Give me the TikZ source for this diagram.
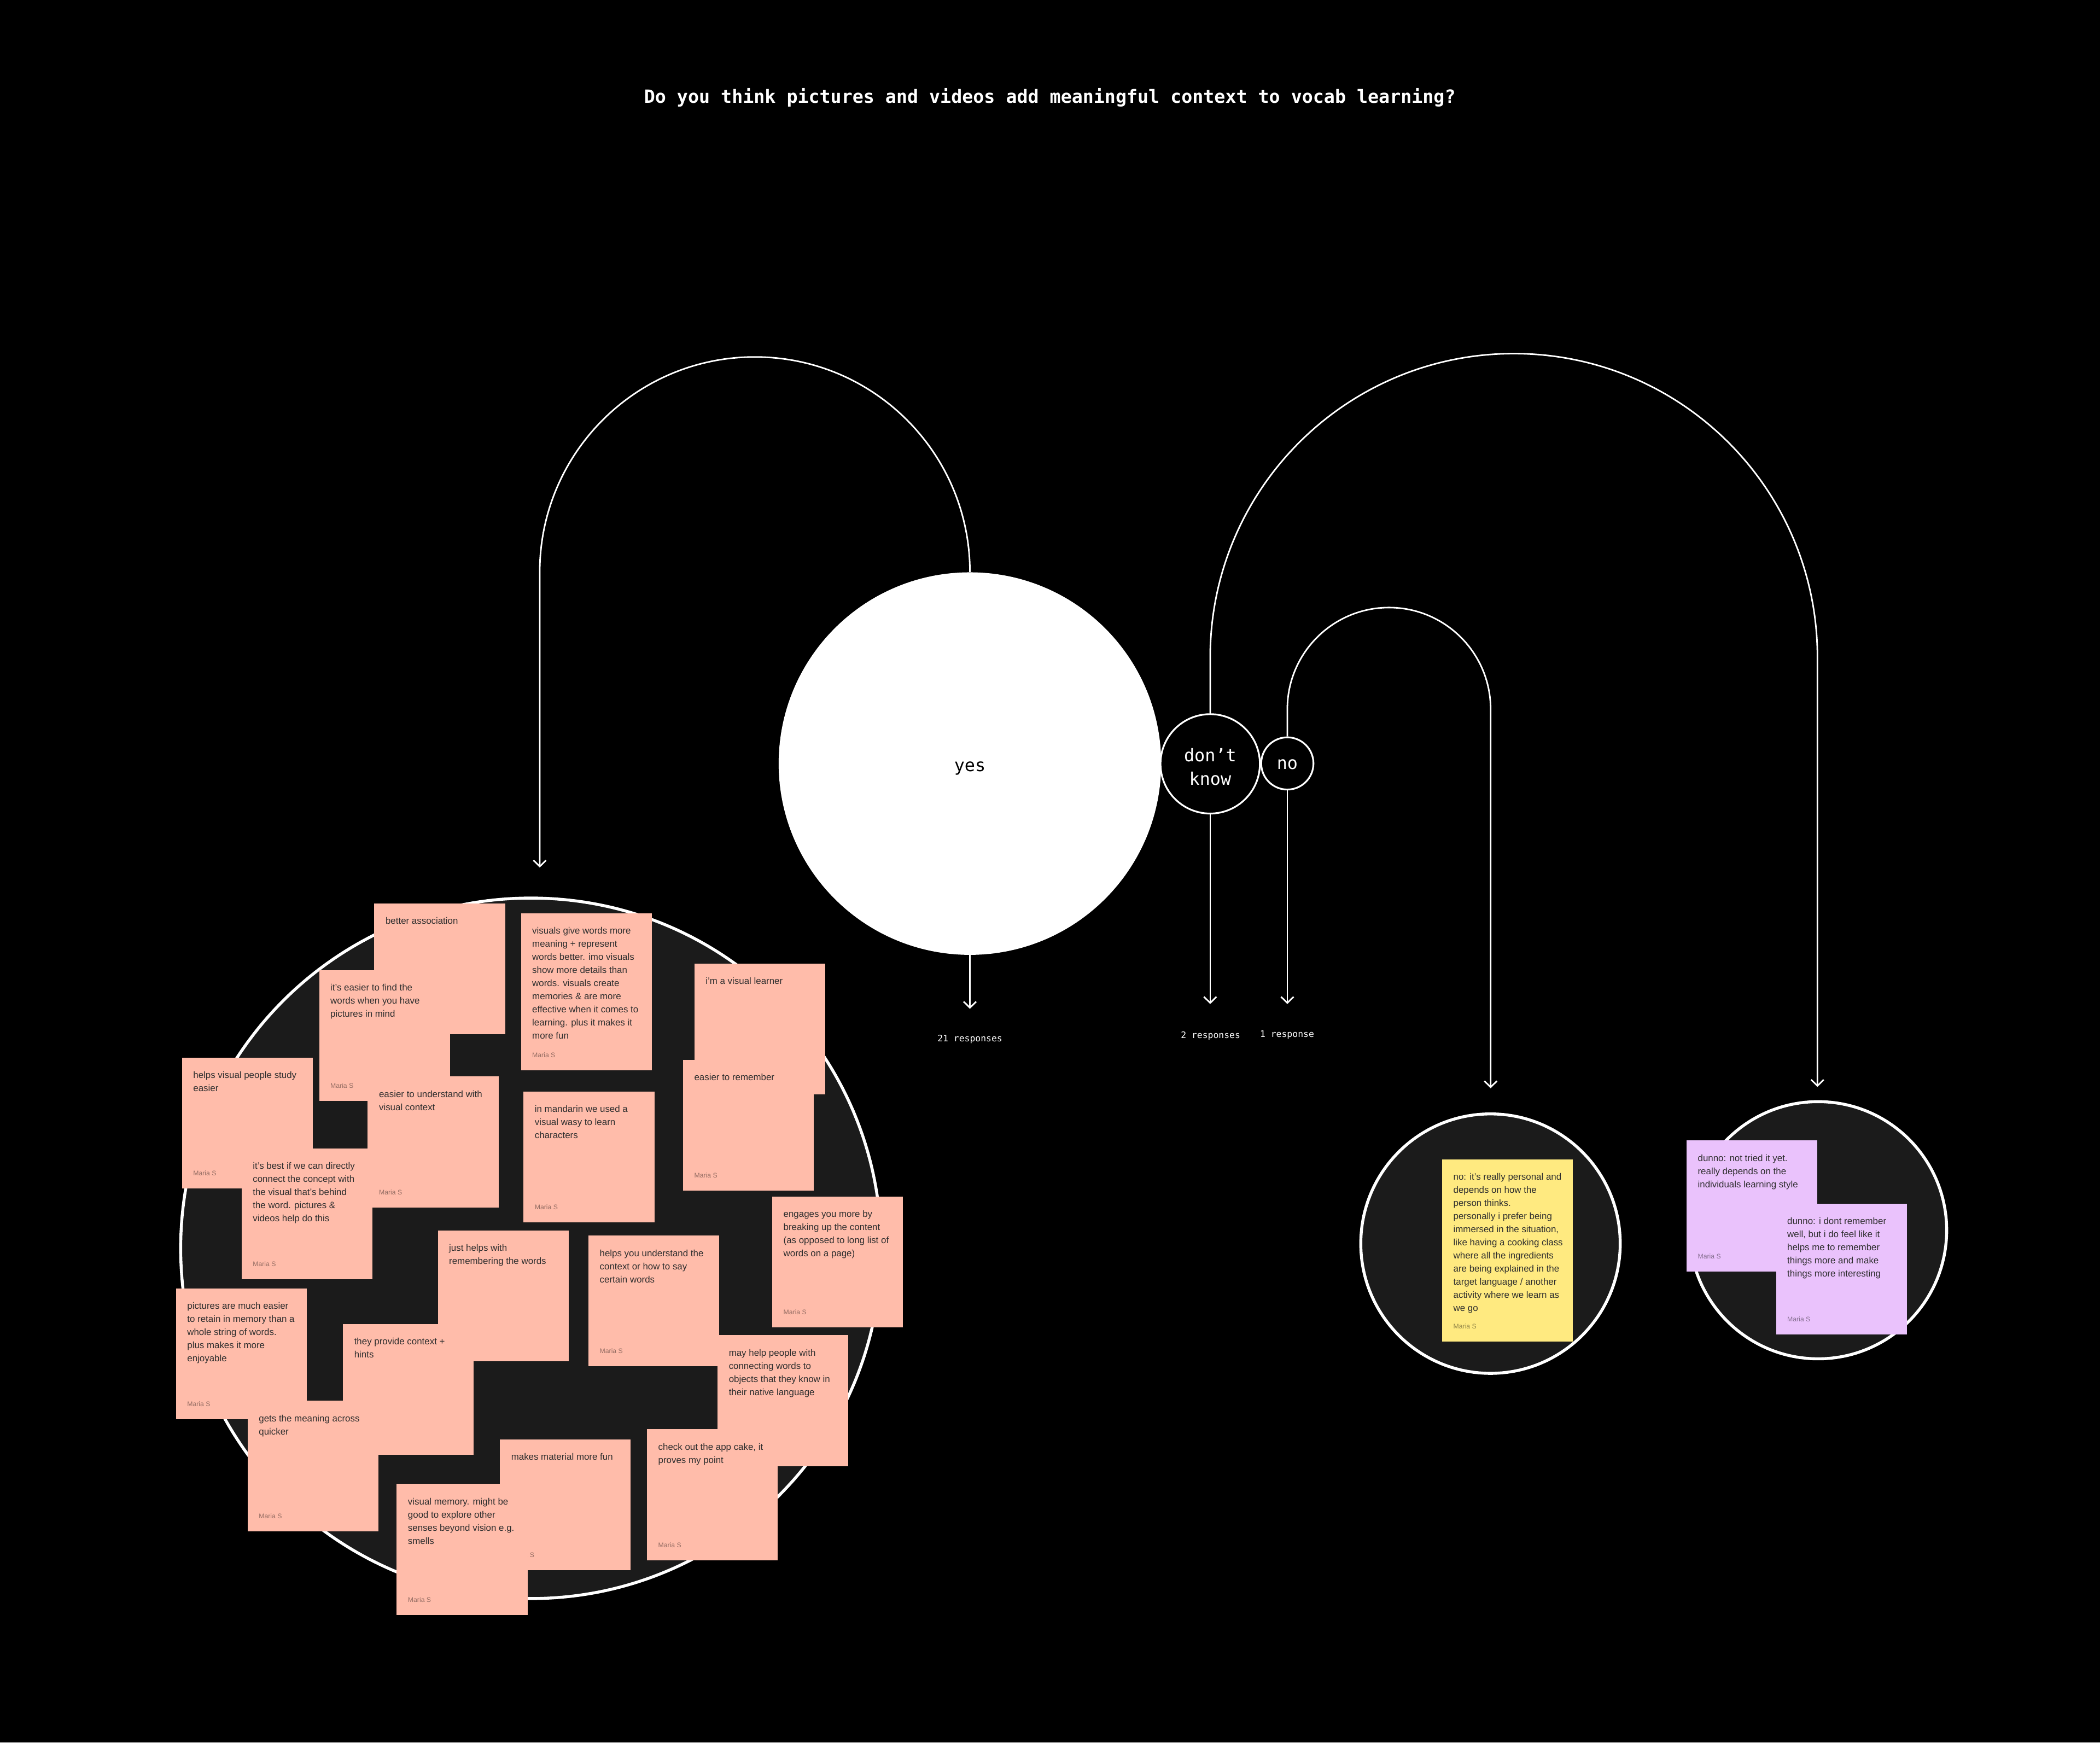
\documentclass[tikz,border=0pt]{standalone}
\usepackage{fontspec}
\setmainfont{Liberation Sans}
\newfontfamily\monofont{DejaVu Sans Mono}
\usetikzlibrary{arrows.meta}
\definecolor{salmon}{HTML}{FFBCAA}
\definecolor{yel}{HTML}{FFEA80}
\definecolor{lilac}{HTML}{EAC2FC}
\definecolor{panel}{HTML}{1B1B1B}
\definecolor{inktext}{HTML}{2E2E2E}
\tikzset{
  notebox/.style={rectangle, minimum width=97.7pt, inner sep=0pt, outer sep=0pt, draw=none},
  notetext/.style={font=\fontsize{6.9}{9.8}\selectfont, align=left, inner sep=0pt, text=inktext},
  mariatext/.style={font=\fontsize{5}{6}\selectfont, inner sep=0pt, text=black, text opacity=0.42},
  container/.style={circle, draw=white, line width=2.2pt, fill=panel, inner sep=0pt},
  conn/.style={draw=white, line width=1.15pt},
  arr/.style={conn, -{Straight Barb[length=4.6pt,width=9.4pt]}},
  answer/.style={circle, inner sep=0pt},
  answerlabel/.style={inner sep=0pt, font=\monofont\fontsize{13}{17.5}\selectfont, align=center},
  resp/.style={font=\monofont\fontsize{6.7}{8}\selectfont, text=white, inner sep=0pt},
}
% name, x, y, height, fill, text
\newcommand\stickynote[6]{%
  \node[notebox, fill=#5, minimum height=#4pt, anchor=north west] (#1) at (#2,#3) {};
  \node[notetext, anchor=north west] (#1-t) at ([xshift=8.2pt, yshift=-8.4pt]#1.north west) {\strut#6};
}
% signature of a note whose corner is not hidden
\newcommand\notesign[1]{%
  \node[mariatext, anchor=base west] (#1-m) at ([xshift=8.2pt, yshift=9.6pt]#1.south west) {Maria S};
}
\begin{document}
\begin{tikzpicture}[x=1pt,y=-1pt]
\fill[black] (0,0) rectangle (1568,1301);
\useasboundingbox (0,0) rectangle (1568,1301);

% title
\node[font=\monofont\bfseries\fontsize{13.6}{16}\selectfont, text=white, anchor=base, inner sep=0pt] (title) at (783.9,76.9)
  {Do you think pictures and videos add meaningful context to vocab learning?};

% answer circles
\node[answer, fill=white, minimum size=285.6pt] (yes) at (724.2,570.1) {};
\node[answerlabel, text=black, anchor=base] (yes-l) at (724.2,575.8) {yes};
\node[answer, draw=white, line width=1.3pt, fill=black, minimum size=74.2pt] (dk) at (903.6,570.3) {};
\node[answerlabel, text=white] (dk-l) at (903.6,572.6) {don’t\\know};
\node[answer, draw=white, line width=1.3pt, fill=black, minimum size=39pt] (no) at (961.2,570.0) {};
\node[answerlabel, text=white] (no-l) at (961.2,570.6) {no};

% containers
\node[container, minimum size=523pt] (yesgroup) at (396.4,932) {};
\node[container, minimum size=193.7pt] (nogroup) at (1112.9,928.5) {};
\node[container, minimum size=192pt] (dkgroup) at (1357.5,918.5) {};

% end points
\coordinate (yesend) at (403.0,647.7);
\coordinate (dkend) at (1357.0,811.5);
\coordinate (noend) at (1113.0,812.5);
\coordinate (yestip) at (724.2,753.2);
\coordinate (dktip) at (903.6,749.6);
\coordinate (notip) at (961.2,749.6);
\coordinate (dkbend) at (903.6,490.7);
\coordinate (nobend) at (961.2,529.5);

% connectors
\draw[arr] (yes.north) arc[start angle=0, end angle=180, radius=160.6pt] -- (yesend);
\draw[arr] (dk.north) -- (dkbend) arc[start angle=180, end angle=0, radius=226.7pt] -- (dkend);
\draw[arr] (no.north) -- (nobend) arc[start angle=180, end angle=0, radius=75.9pt] -- (noend);
\draw[arr] (yes.south) -- (yestip);
\draw[arr] (dk.south) -- (dktip);
\draw[arr] (no.south) -- (notip);

\node[resp] (r21) at (724.2,775.9) {21 responses};
\node[resp] (r2) at (903.9,773.5) {2 responses};
\node[resp] (r1) at (961.0,772.7) {1 response};

% yes notes (bottom to top)
\stickynote{n1}{279.5}{674.6}{97.7}{salmon}{better association}
\stickynote{n2}{238.3}{724.4}{97.7}{salmon}{it’s easier to find the\\words when you have\\pictures in mind}\notesign{n2}
\stickynote{n4}{518.5}{719.5}{97.7}{salmon}{i’m a visual learner}
\stickynote{n5}{510.0}{791.3}{97.7}{salmon}{easier to remember}\notesign{n5}
\stickynote{n6}{135.9}{789.7}{97.7}{salmon}{helps visual people study\\easier}\notesign{n6}
\stickynote{n3}{389.0}{681.9}{117.2}{salmon}{visuals give words more\\meaning + represent\\words better. imo visuals\\show more details than\\words. visuals create\\memories \& are more\\effective when it comes to\\learning. plus it makes it\\more fun}\notesign{n3}
\stickynote{n7}{274.6}{803.7}{97.7}{salmon}{easier to understand with\\visual context}\notesign{n7}
\stickynote{n8}{390.9}{815.0}{97.7}{salmon}{in mandarin we used a\\visual wasy to learn\\characters}\notesign{n8}
\stickynote{n9}{180.4}{857.4}{97.7}{salmon}{it’s best if we can directly\\connect the concept with\\the visual that’s behind\\the word. pictures \&\\videos help do this}\notesign{n9}
\stickynote{n10}{576.6}{893.4}{97.7}{salmon}{engages you more by\\breaking up the content\\(as opposed to long list of\\words on a page)}\notesign{n10}
\stickynote{n11}{326.9}{918.7}{97.7}{salmon}{just helps with\\remembering the words}
\stickynote{n12}{439.4}{922.5}{97.7}{salmon}{helps you understand the\\context or how to say\\certain words}\notesign{n12}
\stickynote{n13}{131.4}{961.9}{97.7}{salmon}{pictures are much easier\\to retain in memory than a\\whole string of words.\\plus makes it more\\enjoyable}\notesign{n13}
\stickynote{n14}{256.1}{988.5}{97.7}{salmon}{they provide context +\\hints}
\stickynote{n15}{535.8}{996.9}{97.7}{salmon}{may help people with\\connecting words to\\objects that they know in\\their native language}
\stickynote{n16}{184.9}{1045.8}{97.7}{salmon}{gets the meaning across\\quicker}\notesign{n16}
\stickynote{n17}{373.3}{1074.6}{97.7}{salmon}{makes material more fun}\notesign{n17}
\stickynote{n18}{483.1}{1067.1}{97.7}{salmon}{check out the app cake, it\\proves my point}\notesign{n18}
\stickynote{n19}{296.2}{1107.9}{97.7}{salmon}{visual memory. might be\\good to explore other\\senses beyond vision e.g.\\smells}\notesign{n19}

% no note
\stickynote{y1}{1076.8}{865.6}{136}{yel}{no: it’s really personal and\\depends on how the\\person thinks.\\personally i prefer being\\immersed in the situation,\\like having a cooking class\\where all the ingredients\\are being explained in the\\target language / another\\activity where we learn as\\we go}\notesign{y1}

% don't know notes
\stickynote{p1}{1259.3}{851.5}{97.7}{lilac}{dunno: not tried it yet.\\really depends on the\\individuals learning style}\notesign{p1}
\stickynote{p2}{1326.1}{898.6}{97.7}{lilac}{dunno: i dont remember\\well, but i do feel like it\\helps me to remember\\things more and make\\things more interesting}\notesign{p2}
\end{tikzpicture}
\end{document}
